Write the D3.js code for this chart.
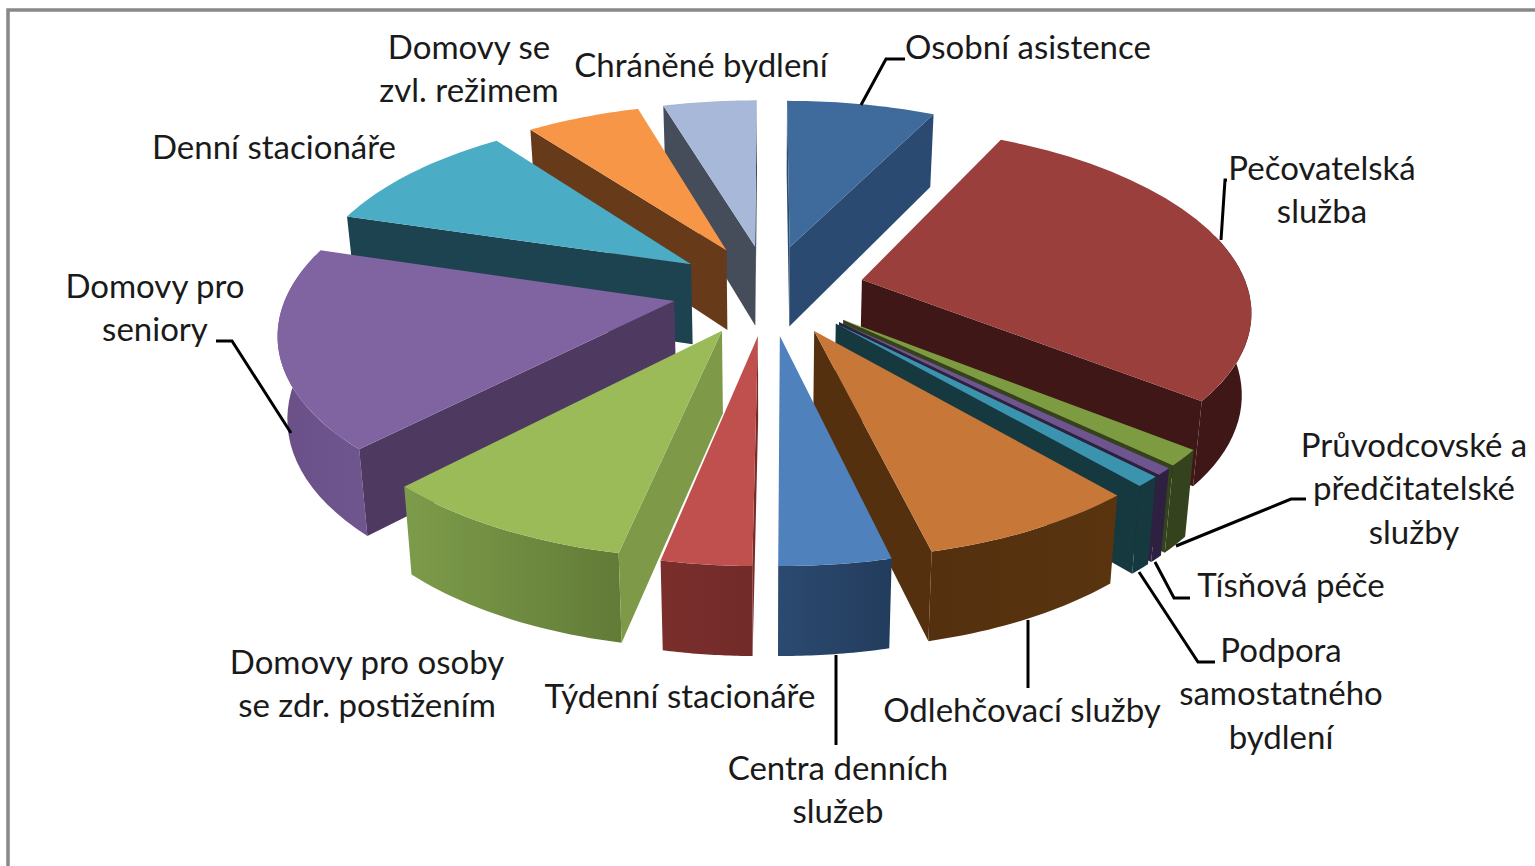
<!DOCTYPE html>
<html>
  <head><meta charset="utf-8"></head>
  <script src="https://d3js.org/d3.v7.min.js" charset="utf-8"></script>
  <style>
    body { margin: 0; background: #fff; }
    text { font-family: Lato, sans-serif; font-size: 33px; fill: #1a1a1a; text-anchor: middle; }
  </style>
  <body>
    <script>
// slices, clockwise from 12 o'clock, share in %
var categories = ['Osobní asistence', 'Pečovatelská\nslužba', 'Průvodcovské a\npředčitatelské\nslužby'
  , 'Tísňová péče', 'Podpora\nsamostatného\nbydlení', 'Odlehčovací služby', 'Centra denních\nslužeb'
  , 'Týdenní stacionáře', 'Domovy pro osoby\nse zdr. postižením', 'Domovy pro\nseniory', 'Denní stacionáře'
  , 'Domovy se\nzvl. režimem', 'Chráněné bydlení']
var shares = [7.3, 28.3, 1.4, 0.6, 0.9, 7.65, 3.85, 3.1, 8.95, 17.4, 10.1, 5.6, 4.6]

var topColors = ['#3e6a9c', '#9b3f3d', '#7d9b40', '#6f5590', '#3b94ae', '#c77737', '#4f81bd'
  , '#c0504d', '#9bbb59', '#8064a2', '#4bacc6', '#f79646', '#a7b8d8']
var cutColors = ['#2b4a72', '#3e1716', '#34421d', '#2d2040', '#16383f', '#55300f', '#254061'
  , '#772c2a', '#7e9a48', '#4e3a61', '#1c434f', '#673a1a', '#454c5a']
var wallLeft = ['#2b4a72', '#3e1716', '#34421d', '#2d2040', '#16383f', '#55300f', '#2c4a70'
  , '#7a2e2c', '#7d9c4a', '#6a5087', '#1c434f', '#673a1a', '#454c5a']
var wallRight = ['#2b4a72', '#3e1716', '#34421d', '#2d2040', '#16383f', '#59340f', '#223c5c'
  , '#722b29', '#627b37', '#70568f', '#1c434f', '#673a1a', '#454c5a']

// label anchors: centre x, y of first line
var labelPos = [[1028, 47], [1322, 168], [1414, 445], [1291, 585], [1281, 650], [1022, 710], [838, 768]
  , [680, 696], [367, 662], [155, 286], [274, 147], [469, 47], [701, 65]]

var leaders = [
  [[861, 105], [886, 59], [905, 59]]
  , [[1221, 240], [1225, 180], [1227, 180]]
  , [[1176, 546], [1291, 499], [1306, 499]]
  , [[1155, 562], [1174, 598], [1190, 598]]
  , [[1139, 572], [1198, 662], [1215, 662]]
  , [[1028, 620], [1028, 688]]
  , [[836, 655], [836, 745]]
  , [[291, 433], [232, 341], [216, 341]]
]

var width = window.innerWidth, height = window.innerHeight
  , cx = 768.5, cy = 289.5, radiusX = 386, radiusY = 180
  , persp = 0.15, explode = 0.25
  , rad = Math.PI / 180

var svg = d3.select('body').append('svg').attr('width', width).attr('height', height)
  .style('display', 'block')
var defs = svg.append('defs')
var line = d3.line()

// frame runs off the right and bottom of the shot
svg.append('path').attr('d', line([[8, height + 5], [8, 10], [width + 5, 10]]))
  .attr('fill', 'none').attr('stroke', '#888').attr('stroke-width', 3.5)

// disc coordinates to screen, u to the right, v towards the viewer
function project(u, v, drop){
  var s = 1 / (1 - persp * v)
    , x = radiusX * u * s
    , y = cy + radiusY * v * s
  if (drop) return [cx + x * 0.98, y + 81 + 7.2 * v]
  return [cx + x, y]
}

var pie = d3.pie().sort(null).value(function(d){ return d })
var slices = pie(shares).map(function(d, i){
  var mid = (d.startAngle + d.endAngle) / 2
  return { i: i, a0: d.startAngle, a1: d.endAngle, mid: mid
    , tu: explode * Math.sin(mid), tv: -explode * Math.cos(mid) }
})

function rim(d, a, drop){
  return project(d.tu + Math.sin(a), d.tv - Math.cos(a), drop)
}
function rimPoints(d, a0, a1, drop){
  return d3.range(25).map(function(k){ return rim(d, a0 + (a1 - a0) * k / 24, drop) })
}

// back to front, so that nearer slices cover the walls behind them
slices.sort(function(a, b){ return Math.cos(b.mid) - Math.cos(a.mid) })

var groups = svg.selectAll('g.slice').data(slices).enter().append('g').attr('class', 'slice')

groups.each(function(d){
  var g = d3.select(this)
    , tip = project(d.tu, d.tv), tipLow = project(d.tu, d.tv, true)

  // curved outer wall, only the part that can face us
  var a0 = Math.max(d.a0, 75 * rad), a1 = Math.min(d.a1, 285 * rad)
  if (a1 > a0) {
    var upper = rimPoints(d, a0, a1), lower = rimPoints(d, a0, a1, true).reverse()
      , xs = upper.concat(lower).map(function(p){ return p[0] })
      , id = 'wall' + d.i
    var grad = defs.append('linearGradient').attr('id', id).attr('gradientUnits', 'userSpaceOnUse')
      .attr('x1', d3.min(xs)).attr('x2', d3.max(xs)).attr('y1', 0).attr('y2', 0)
    grad.append('stop').attr('offset', 0).attr('stop-color', wallLeft[d.i])
    grad.append('stop').attr('offset', 1).attr('stop-color', wallRight[d.i])
    g.append('path').attr('d', line(upper.concat(lower)) + 'Z').attr('fill', 'url(#' + id + ')')
  }

  // cut faces: start shows when the edge runs left of the tip, end when it runs right
  var startTop = rim(d, d.a0), endTop = rim(d, d.a1)
  if (startTop[0] < tip[0])
    g.append('path').attr('d', line([tip, startTop, rim(d, d.a0, true), tipLow]) + 'Z').attr('fill', cutColors[d.i])
  if (endTop[0] > tip[0])
    g.append('path').attr('d', line([tip, endTop, rim(d, d.a1, true), tipLow]) + 'Z').attr('fill', cutColors[d.i])

  g.append('path').attr('d', line([tip].concat(rimPoints(d, d.a0, d.a1))) + 'Z').attr('fill', topColors[d.i])
})

svg.selectAll('path.leader').data(leaders).enter().append('path').attr('class', 'leader')
  .attr('d', function(d){ return line(d) })
  .attr('fill', 'none').attr('stroke', '#000').attr('stroke-width', 3)

categories.forEach(function(name, i){
  name.split('\n').forEach(function(part, k){
    svg.append('text').attr('x', labelPos[i][0]).attr('y', labelPos[i][1] + k * 43.7)
      .attr('dy', '0.35em').text(part)
  })
})
    </script>
  </body>
</html>
